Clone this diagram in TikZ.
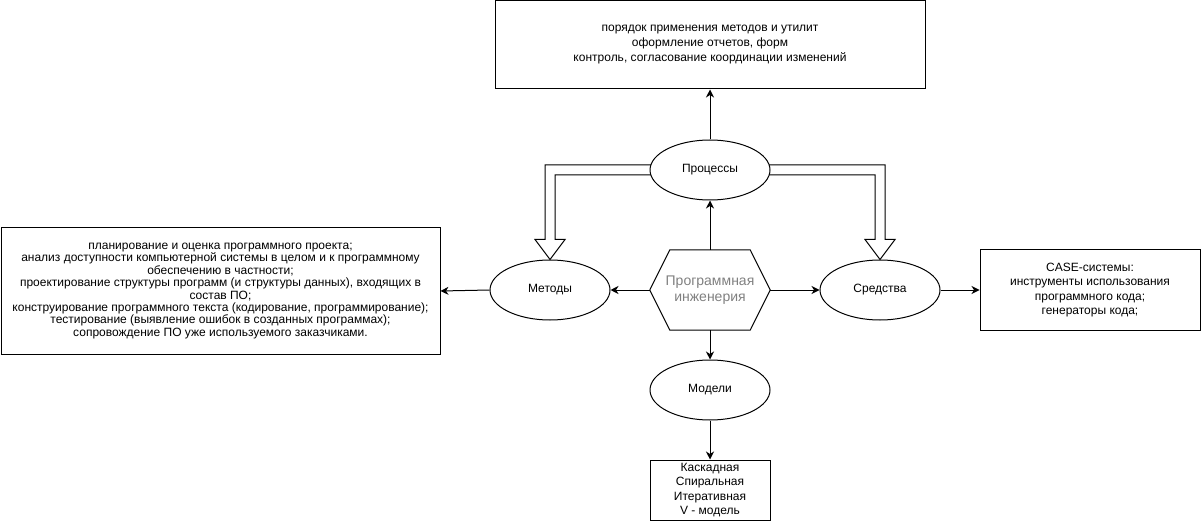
\documentclass[tikz,border=0pt]{standalone}
\usepackage{fontspec}
\setmainfont{Liberation Sans}
\usetikzlibrary{arrows.meta,shapes.geometric,calc,backgrounds}
\definecolor{hextext}{RGB}{128,128,128}
\begin{document}
\begin{tikzpicture}[x=1pt,y=-1pt,
  every node/.style={font=\fontsize{12}{14.6}\selectfont, align=center, inner sep=0pt},
  box/.style={draw, line width=1pt, fill=white, rectangle},
  oval/.style={draw, line width=1pt, fill=white, ellipse, minimum width=120pt, minimum height=60pt},
  arr/.style={line width=1pt, -{Stealth[length=8pt,width=8pt,inset=2.5pt]}},
  hollow/.style={draw, line width=1pt, fill=white, line join=miter}
]
\useasboundingbox (0,0) rectangle (1201,521);

% boxes
\node[box, minimum width=430pt, minimum height=88pt, font=\fontsize{12}{15}\selectfont] (top) at (710,45)
  {порядок применения методов и утилит\\оформление отчетов, форм\\контроль, согласование координации изменений};
\node[box, minimum width=439pt, minimum height=126pt, font=\fontsize{12}{12.4}\selectfont] (left) at (220.5,291)
  {планирование и оценка программного проекта;\\
   анализ доступности компьютерной системы в целом и к программному\\
   обеспечению в частности;\\
   проектирование структуры программ (и структуры данных), входящих в\\
   состав ПО;\\
   конструирование программного текста (кодирование, программирование);\\
   тестирование (выявление ошибок в созданных программах);\\
   сопровождение ПО уже используемого заказчиками.};
\node[box, minimum width=220pt, minimum height=80pt] (right) at (1090,290)
  {CASE-системы:\\ инструменты использования\\программного кода;\\ генераторы кода;};
\node[box, minimum width=120pt, minimum height=60pt] (bottom) at (710,490)
  {Каскадная\\Спиральная\\Итеративная\\V - модель};

% ellipses
\node[oval] (proc) at (710,170) {Процессы};
\node[oval] (met) at (550,290) {Методы};
\node[oval] (sred) at (880,290) {Средства};
\node[oval] (mod) at (710,390) {Модели};

% hexagon
\node[minimum width=120pt, minimum height=80pt, text=hextext, font=\fontsize{14}{16.7}\selectfont] (pi) at (710,290) {Программная\\инженерия};
\draw[line width=1pt, line join=miter] (pi.west) -- ($(pi.north west)+(20,0)$) -- ($(pi.north east)+(-20,0)$) -- (pi.east)
  -- ($(pi.south east)+(-20,0)$) -- ($(pi.south west)+(20,0)$) -- cycle;

% hollow double arrows (behind the ellipses)
\coordinate (lb) at ($(met.north)+(0,-20)$);
\coordinate (rb) at ($(sred.north)+(0,-20)$);
\begin{scope}[on background layer]
\path[hollow] ($(proc.center)+(0,-5)$) -| ($(lb)+(-5,0)$) -- ($(lb)+(-15,0)$) -- (met.north)
  -- ($(lb)+(15,0)$) -- ($(lb)+(5,0)$) |- ($(proc.center)+(0,5)$) -- cycle;
\path[hollow] ($(proc.center)+(0,-5)$) -| ($(rb)+(5,0)$) -- ($(rb)+(15,0)$) -- (sred.north)
  -- ($(rb)+(-15,0)$) -- ($(rb)+(-5,0)$) |- ($(proc.center)+(0,5)$) -- cycle;
\end{scope}

% connectors
\draw[arr] (pi.north) -- (proc.south);
\draw[arr] (proc.north) -- (top.south);
\draw[arr] (pi.west) -- (met.east);
\draw[arr] (pi.east) -- (sred.west);
\draw[arr] (pi.south) -- (mod.north);
\draw[arr] (mod.south) -- (bottom.north);
\draw[arr] (met.west) -- (left.east);
\draw[arr] (sred.east) -- (right.west);
\end{tikzpicture}
\end{document}
